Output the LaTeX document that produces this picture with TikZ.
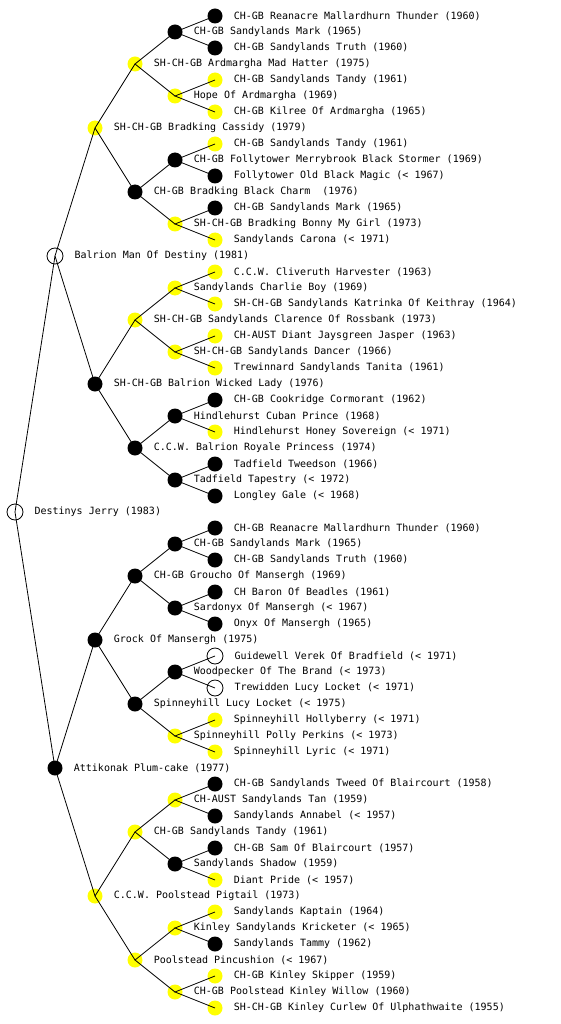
\documentclass[tikz,border=0pt]{standalone}
\usepackage{fontspec}
\newfontfamily\dogfont{DejaVu Sans Mono}
\usetikzlibrary{positioning}
\definecolor{YellowClr}{RGB}{255,255,0}

\begin{document}
\begin{tikzpicture}[x=1pt,y=-1pt,
  blk/.style={circle,fill=black,minimum size=15pt,inner sep=0pt},
  ylw/.style={circle,fill=YellowClr,minimum size=15pt,inner sep=0pt},
  opn/.style={circle,draw=black,line width=0.8pt,minimum size=16pt,inner sep=0pt},
  txt/.style={font=\dogfont\fontsize{10}{12}\selectfont,inner sep=0pt},
  link/.style={line width=0.8pt}]
\useasboundingbox (0,0) rectangle (560,1024);

% sire side
\node[blk] (d1) at (215,16) {};   \node[txt,right=11pt of d1] (t1) {CH-GB Reanacre Mallardhurn Thunder (1960)};
\node[blk] (d2) at (175,32) {};   \node[txt,right=11pt of d2] (t2) {CH-GB Sandylands Mark (1965)};
\node[blk] (d3) at (215,48) {};   \node[txt,right=11pt of d3] (t3) {CH-GB Sandylands Truth (1960)};
\node[ylw] (d4) at (135,64) {};   \node[txt,right=11pt of d4] (t4) {SH-CH-GB Ardmargha Mad Hatter (1975)};
\node[ylw] (d5) at (215,80) {};   \node[txt,right=11pt of d5] (t5) {CH-GB Sandylands Tandy (1961)};
\node[ylw] (d6) at (175,96) {};   \node[txt,right=11pt of d6] (t6) {Hope Of Ardmargha (1969)};
\node[ylw] (d7) at (215,112) {};  \node[txt,right=11pt of d7] (t7) {CH-GB Kilree Of Ardmargha (1965)};
\node[ylw] (d8) at (95,128) {};   \node[txt,right=11pt of d8] (t8) {SH-CH-GB Bradking Cassidy (1979)};
\node[ylw] (d9) at (215,144) {};  \node[txt,right=11pt of d9] (t9) {CH-GB Sandylands Tandy (1961)};
\node[blk] (d10) at (175,160) {}; \node[txt,right=11pt of d10] (t10) {CH-GB Follytower Merrybrook Black Stormer (1969)};
\node[blk] (d11) at (215,176) {}; \node[txt,right=11pt of d11] (t11) {Follytower Old Black Magic (< 1967)};
\node[blk] (d12) at (135,192) {}; \node[txt,right=11pt of d12] (t12) {CH-GB Bradking Black Charm~~(1976)};
\node[blk] (d13) at (215,208) {}; \node[txt,right=11pt of d13] (t13) {CH-GB Sandylands Mark (1965)};
\node[ylw] (d14) at (175,224) {}; \node[txt,right=11pt of d14] (t14) {SH-CH-GB Bradking Bonny My Girl (1973)};
\node[ylw] (d15) at (215,240) {}; \node[txt,right=11pt of d15] (t15) {Sandylands Carona (< 1971)};
\node[opn] (d16) at (55,256) {};  \node[txt,right=11pt of d16] (t16) {Balrion Man Of Destiny (1981)};
\node[ylw] (d17) at (215,272) {}; \node[txt,right=11pt of d17] (t17) {C.C.W. Cliveruth Harvester (1963)};
\node[ylw] (d18) at (175,288) {}; \node[txt,right=11pt of d18] (t18) {Sandylands Charlie Boy (1969)};
\node[ylw] (d19) at (215,304) {}; \node[txt,right=11pt of d19] (t19) {SH-CH-GB Sandylands Katrinka Of Keithray (1964)};
\node[ylw] (d20) at (135,320) {}; \node[txt,right=11pt of d20] (t20) {SH-CH-GB Sandylands Clarence Of Rossbank (1973)};
\node[ylw] (d21) at (215,336) {}; \node[txt,right=11pt of d21] (t21) {CH-AUST Diant Jaysgreen Jasper (1963)};
\node[ylw] (d22) at (175,352) {}; \node[txt,right=11pt of d22] (t22) {SH-CH-GB Sandylands Dancer (1966)};
\node[ylw] (d23) at (215,368) {}; \node[txt,right=11pt of d23] (t23) {Trewinnard Sandylands Tanita (1961)};
\node[blk] (d24) at (95,384) {};  \node[txt,right=11pt of d24] (t24) {SH-CH-GB Balrion Wicked Lady (1976)};
\node[blk] (d25) at (215,400) {}; \node[txt,right=11pt of d25] (t25) {CH-GB Cookridge Cormorant (1962)};
\node[blk] (d26) at (175,416) {}; \node[txt,right=11pt of d26] (t26) {Hindlehurst Cuban Prince (1968)};
\node[ylw] (d27) at (215,432) {}; \node[txt,right=11pt of d27] (t27) {Hindlehurst Honey Sovereign (< 1971)};
\node[blk] (d28) at (135,448) {}; \node[txt,right=11pt of d28] (t28) {C.C.W. Balrion Royale Princess (1974)};
\node[blk] (d29) at (215,464) {}; \node[txt,right=11pt of d29] (t29) {Tadfield Tweedson (1966)};
\node[blk] (d30) at (175,480) {}; \node[txt,right=11pt of d30] (t30) {Tadfield Tapestry (< 1972)};
\node[blk] (d31) at (215,496) {}; \node[txt,right=11pt of d31] (t31) {Longley Gale (< 1968)};
% the dog itself
\node[opn] (d32) at (15,512) {};  \node[txt,right=11pt of d32] (t32) {Destinys Jerry (1983)};
% dam side
\node[blk] (d33) at (215,528) {}; \node[txt,right=11pt of d33] (t33) {CH-GB Reanacre Mallardhurn Thunder (1960)};
\node[blk] (d34) at (175,544) {}; \node[txt,right=11pt of d34] (t34) {CH-GB Sandylands Mark (1965)};
\node[blk] (d35) at (215,560) {}; \node[txt,right=11pt of d35] (t35) {CH-GB Sandylands Truth (1960)};
\node[blk] (d36) at (135,576) {}; \node[txt,right=11pt of d36] (t36) {CH-GB Groucho Of Mansergh (1969)};
\node[blk] (d37) at (215,592) {}; \node[txt,right=11pt of d37] (t37) {CH Baron Of Beadles (1961)};
\node[blk] (d38) at (175,608) {}; \node[txt,right=11pt of d38] (t38) {Sardonyx Of Mansergh (< 1967)};
\node[blk] (d39) at (215,624) {}; \node[txt,right=11pt of d39] (t39) {Onyx Of Mansergh (1965)};
\node[blk] (d40) at (95,640) {};  \node[txt,right=11pt of d40] (t40) {Grock Of Mansergh (1975)};
\node[opn] (d41) at (215,656) {}; \node[txt,right=11pt of d41] (t41) {Guidewell Verek Of Bradfield (< 1971)};
\node[blk] (d42) at (175,672) {}; \node[txt,right=11pt of d42] (t42) {Woodpecker Of The Brand (< 1973)};
\node[opn] (d43) at (215,688) {}; \node[txt,right=11pt of d43] (t43) {Trewidden Lucy Locket (< 1971)};
\node[blk] (d44) at (135,704) {}; \node[txt,right=11pt of d44] (t44) {Spinneyhill Lucy Locket (< 1975)};
\node[ylw] (d45) at (215,720) {}; \node[txt,right=11pt of d45] (t45) {Spinneyhill Hollyberry (< 1971)};
\node[ylw] (d46) at (175,736) {}; \node[txt,right=11pt of d46] (t46) {Spinneyhill Polly Perkins (< 1973)};
\node[ylw] (d47) at (215,752) {}; \node[txt,right=11pt of d47] (t47) {Spinneyhill Lyric (< 1971)};
\node[blk] (d48) at (55,768) {};  \node[txt,right=11pt of d48] (t48) {Attikonak Plum-cake (1977)};
\node[blk] (d49) at (215,784) {}; \node[txt,right=11pt of d49] (t49) {CH-GB Sandylands Tweed Of Blaircourt (1958)};
\node[ylw] (d50) at (175,800) {}; \node[txt,right=11pt of d50] (t50) {CH-AUST Sandylands Tan (1959)};
\node[blk] (d51) at (215,816) {}; \node[txt,right=11pt of d51] (t51) {Sandylands Annabel (< 1957)};
\node[ylw] (d52) at (135,832) {}; \node[txt,right=11pt of d52] (t52) {CH-GB Sandylands Tandy (1961)};
\node[blk] (d53) at (215,848) {}; \node[txt,right=11pt of d53] (t53) {CH-GB Sam Of Blaircourt (1957)};
\node[blk] (d54) at (175,864) {}; \node[txt,right=11pt of d54] (t54) {Sandylands Shadow (1959)};
\node[ylw] (d55) at (215,880) {}; \node[txt,right=11pt of d55] (t55) {Diant Pride (< 1957)};
\node[ylw] (d56) at (95,896) {};  \node[txt,right=11pt of d56] (t56) {C.C.W. Poolstead Pigtail (1973)};
\node[ylw] (d57) at (215,912) {}; \node[txt,right=11pt of d57] (t57) {Sandylands Kaptain (1964)};
\node[ylw] (d58) at (175,928) {}; \node[txt,right=11pt of d58] (t58) {Kinley Sandylands Kricketer (< 1965)};
\node[blk] (d59) at (215,944) {}; \node[txt,right=11pt of d59] (t59) {Sandylands Tammy (1962)};
\node[ylw] (d60) at (135,960) {}; \node[txt,right=11pt of d60] (t60) {Poolstead Pincushion (< 1967)};
\node[ylw] (d61) at (215,976) {}; \node[txt,right=11pt of d61] (t61) {CH-GB Kinley Skipper (1959)};
\node[ylw] (d62) at (175,992) {}; \node[txt,right=11pt of d62] (t62) {CH-GB Poolstead Kinley Willow (1960)};
\node[ylw] (d63) at (215,1008) {};\node[txt,right=11pt of d63] (t63) {SH-CH-GB Kinley Curlew Of Ulphathwaite (1955)};

% sire -- dog -- dam
\draw[link] (d16.center) -- (d32.center) -- (d48.center);
\draw[link] (d8.center) -- (d16.center) -- (d24.center);
\draw[link] (d40.center) -- (d48.center) -- (d56.center);
\draw[link] (d4.center) -- (d8.center) -- (d12.center);
\draw[link] (d20.center) -- (d24.center) -- (d28.center);
\draw[link] (d36.center) -- (d40.center) -- (d44.center);
\draw[link] (d52.center) -- (d56.center) -- (d60.center);
\draw[link] (d2.center) -- (d4.center) -- (d6.center);
\draw[link] (d10.center) -- (d12.center) -- (d14.center);
\draw[link] (d18.center) -- (d20.center) -- (d22.center);
\draw[link] (d26.center) -- (d28.center) -- (d30.center);
\draw[link] (d34.center) -- (d36.center) -- (d38.center);
\draw[link] (d42.center) -- (d44.center) -- (d46.center);
\draw[link] (d50.center) -- (d52.center) -- (d54.center);
\draw[link] (d58.center) -- (d60.center) -- (d62.center);
\draw[link] (d1.center) -- (d2.center) -- (d3.center);
\draw[link] (d5.center) -- (d6.center) -- (d7.center);
\draw[link] (d9.center) -- (d10.center) -- (d11.center);
\draw[link] (d13.center) -- (d14.center) -- (d15.center);
\draw[link] (d17.center) -- (d18.center) -- (d19.center);
\draw[link] (d21.center) -- (d22.center) -- (d23.center);
\draw[link] (d25.center) -- (d26.center) -- (d27.center);
\draw[link] (d29.center) -- (d30.center) -- (d31.center);
\draw[link] (d33.center) -- (d34.center) -- (d35.center);
\draw[link] (d37.center) -- (d38.center) -- (d39.center);
\draw[link] (d41.center) -- (d42.center) -- (d43.center);
\draw[link] (d45.center) -- (d46.center) -- (d47.center);
\draw[link] (d49.center) -- (d50.center) -- (d51.center);
\draw[link] (d53.center) -- (d54.center) -- (d55.center);
\draw[link] (d57.center) -- (d58.center) -- (d59.center);
\draw[link] (d61.center) -- (d62.center) -- (d63.center);

\end{tikzpicture}
\end{document}
